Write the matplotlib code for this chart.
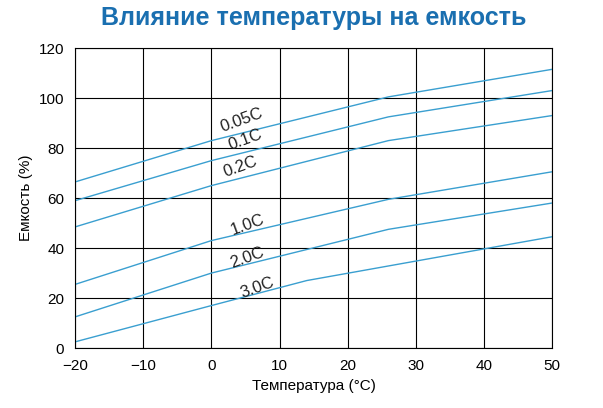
import matplotlib.pyplot as plt

plt.rcParams['font.family'] = ['Liberation Sans', 'DejaVu Sans']

temps_a = [-20, 0, 26, 50]
c005 = [66.5, 83, 100.5, 111.5]
c01 = [59, 75, 92.5, 103]
c02 = [48.5, 65, 83, 93]
c10 = [25.5, 43, 59.5, 70.5]
c20 = [12.5, 30, 47.5, 58]
temps_b = [-20, 0, 14, 50]
c30 = [2.5, 17, 27, 44.5]

labels = ["0.05C", "0.1C", "0.2C", "1.0C", "2.0C", "3.0C"]
label_pos = [(1, 85.5), (2.2, 78), (1.5, 67.5), (2.5, 44), (2.5, 31), (4, 19)]

fig = plt.figure(figsize=(6.03, 4.08), dpi=100)
ax = fig.add_axes([0.125, 0.147, 0.79, 0.735])
color = "#3a9fd0"
series = [(temps_a, c005), (temps_a, c01), (temps_a, c02),
          (temps_a, c10), (temps_a, c20), (temps_b, c30)]
for (x, y) in series:
    ax.plot(x, y, color=color, lw=1)
for lab, (x, y) in zip(labels, label_pos):
    ax.text(x, y, lab, fontsize=12, rotation=20, ha="left", va="bottom", color="#222222")

ax.set_xlim(-20, 50)
ax.set_ylim(0, 120)
ax.set_xticks(range(-20, 51, 10))
ax.set_yticks(range(0, 121, 20))
ax.grid(True, color="black", lw=0.8)
for s in ax.spines.values():
    s.set_linewidth(0.8)
ax.tick_params(length=0, labelsize=11, pad=8)
ax.set_xlabel("Температура (°C)", fontsize=11)
ax.set_ylabel("Емкость (%)", fontsize=11)
fig.text(0.52, 0.955, "Влияние температуры на емкость", ha="center", va="center",
         fontsize=18, fontweight="bold", color="#1a6fb0")
fig.savefig("out.png", dpi=100)
